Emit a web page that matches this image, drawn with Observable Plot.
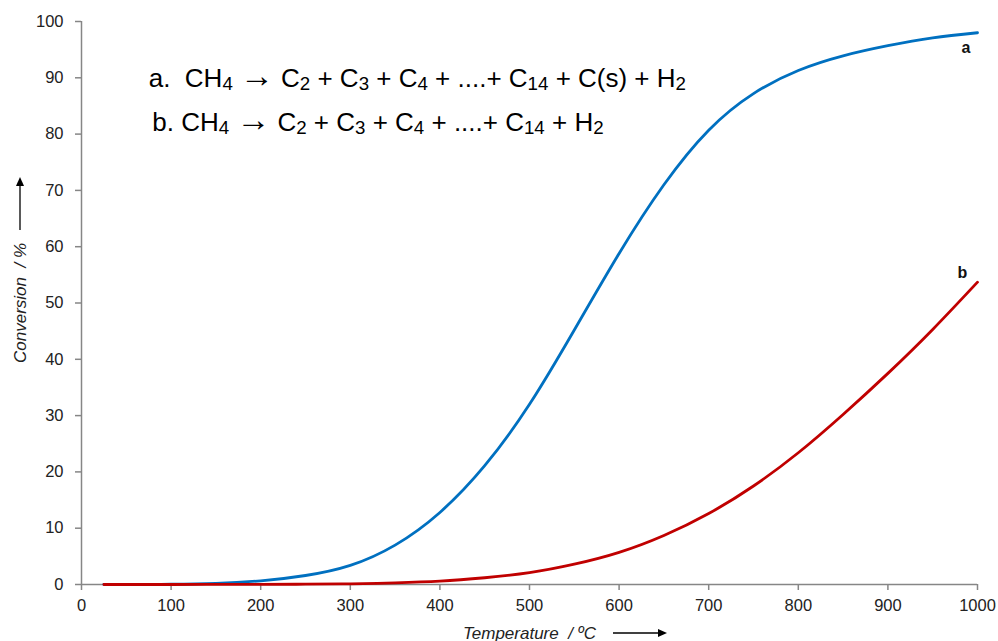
<!DOCTYPE html>
<html><head><meta charset="utf-8">
<script src="https://cdn.jsdelivr.net/npm/d3@7"></script>
<script src="https://cdn.jsdelivr.net/npm/@observablehq/plot@0.6"></script>
<style>body{margin:0;background:#fff}#chart{width:998px;height:641px}</style>
</head><body><div id="chart"></div>
<script>
const temperature = [25,50,100,150,200,250,300,350,400,450,500,550,600,650,700,750,800,850,900,950,1000];
const conversionA = [0,0.01,0.05,0.2,0.65,1.6,3.4,7.0,12.8,21.1,32,45.2,58.8,71,80.7,87.2,91.3,93.9,95.7,97.1,98];
const conversionB = [0,0,0,0.01,0.02,0.05,0.12,0.3,0.6,1.2,2.1,3.6,5.7,8.7,12.6,17.5,23.4,30.2,37.5,45.3,53.7];
const seriesNames = ["a","b"];
const seriesColors = ["#0070C0","#C00000"];
const xTicks = [0,100,200,300,400,500,600,700,800,900,1000];
const yTicks = [0,10,20,30,40,50,60,70,80,90,100];
const equations = ["a.  CH_4 \u2192 C_2 + C_3 + C_4 + ....+ C_14 + C(s) + H_2", "b. CH_4 \u2192 C_2 + C_3 + C_4 + ....+ C_14 + H_2"];
const equationX = [75, 79];
const equationY = [88.4, 80.6];
const seriesLabelX = [987, 983];
const seriesLabelY = [95.4, 55.4];
const xLabel = "Temperature  / \u00BAC";
const yLabel = "Conversion  / %";

const rows = temperature.flatMap((t, i) => [
  {t, v: conversionA[i], s: seriesNames[0]},
  {t, v: conversionB[i], s: seriesNames[1]}
]);
const axisColor = "#868686";
const textColor = "#222";

const plot = Plot.plot({
  width: 998, height: 641,
  marginLeft: 81, marginRight: 21, marginTop: 21, marginBottom: 57,
  x: {domain: [0, 1000]},
  y: {domain: [0, 100]},
  color: {domain: seriesNames, range: seriesColors},
  style: {fontFamily: "'Liberation Sans', Arial, sans-serif", background: "#fff", overflow: "visible"},
  marks: [
    Plot.axisX({ticks: xTicks, tickSize: 6, tickPadding: 9, stroke: axisColor, strokeWidth: 1.5, fill: textColor, fontSize: 16.5, label: null, tickFormat: d => String(d)}),
    Plot.axisY({ticks: yTicks, tickSize: 6, tickPadding: 12, stroke: axisColor, strokeWidth: 1.5, fill: textColor, fontSize: 16.5, label: null, tickFormat: d => String(d)}),
    Plot.ruleY([0], {stroke: axisColor, strokeWidth: 1.5}),
    Plot.ruleX([0], {stroke: axisColor, strokeWidth: 1.5}),
    Plot.line(rows, {x: "t", y: "v", z: "s", stroke: "s", strokeWidth: 2.8, curve: "natural"}),
    Plot.text(seriesNames, {x: (d, i) => seriesLabelX[i], y: (d, i) => seriesLabelY[i], text: d => d, fontWeight: "bold", fontSize: 16, fill: "#111"}),
    Plot.text(equations, {x: (d, i) => equationX[i], y: (d, i) => equationY[i], text: d => d, textAnchor: "start", lineAnchor: "bottom", fontSize: 26, fill: "#000"}),
    Plot.text([xLabel], {frameAnchor: "bottom", dy: 49, textAnchor: "middle", lineAnchor: "middle", fontStyle: "italic", fontSize: 17, fill: textColor}),
    Plot.text([yLabel], {frameAnchor: "left", dx: -61, rotate: -90, textAnchor: "middle", lineAnchor: "middle", fontStyle: "italic", fontSize: 17, fill: textColor})
  ]
});
document.getElementById("chart").appendChild(plot);

const svg = d3.select(plot);
// rebuild equations with subscripts and bold arrow
svg.selectAll("text").filter(function() { return equations.includes(this.textContent); }).each(function() {
  const el = d3.select(this);
  const s = this.textContent;
  el.style("white-space", "pre").text(null);
  const parts = s.split(/_(\d+)/);
  let shifted = false;
  parts.forEach((p, k) => {
    if (!p) return;
    if (k % 2 === 1) {
      el.append("tspan").attr("font-size", "0.72em").attr("dy", shifted ? 0 : 3).text(p);
      shifted = true;
    } else {
      p.split(/(\u2192)/).forEach(q => {
        if (!q) return;
        const ts = el.append("tspan").attr("dy", shifted ? -3 : 0).text(q);
        shifted = false;
        if (q === "\u2192") ts.attr("font-weight", "bold").attr("font-size", "1.3em");
      });
    }
  });
});
// axis-title arrows
const ax = svg.append("g").attr("fill", "#000").attr("stroke", "#000");
ax.append("line").attr("x1", 613).attr("y1", 633).attr("x2", 660).attr("y2", 633).attr("stroke-width", 1.3);
ax.append("path").attr("d", "M658,629L667,633L658,637Z").attr("stroke", "none");
ax.append("line").attr("x1", 20).attr("y1", 230).attr("x2", 20).attr("y2", 184).attr("stroke-width", 1.3);
ax.append("path").attr("d", "M16,186L20,177L24,186Z").attr("stroke", "none");
</script></body></html>
